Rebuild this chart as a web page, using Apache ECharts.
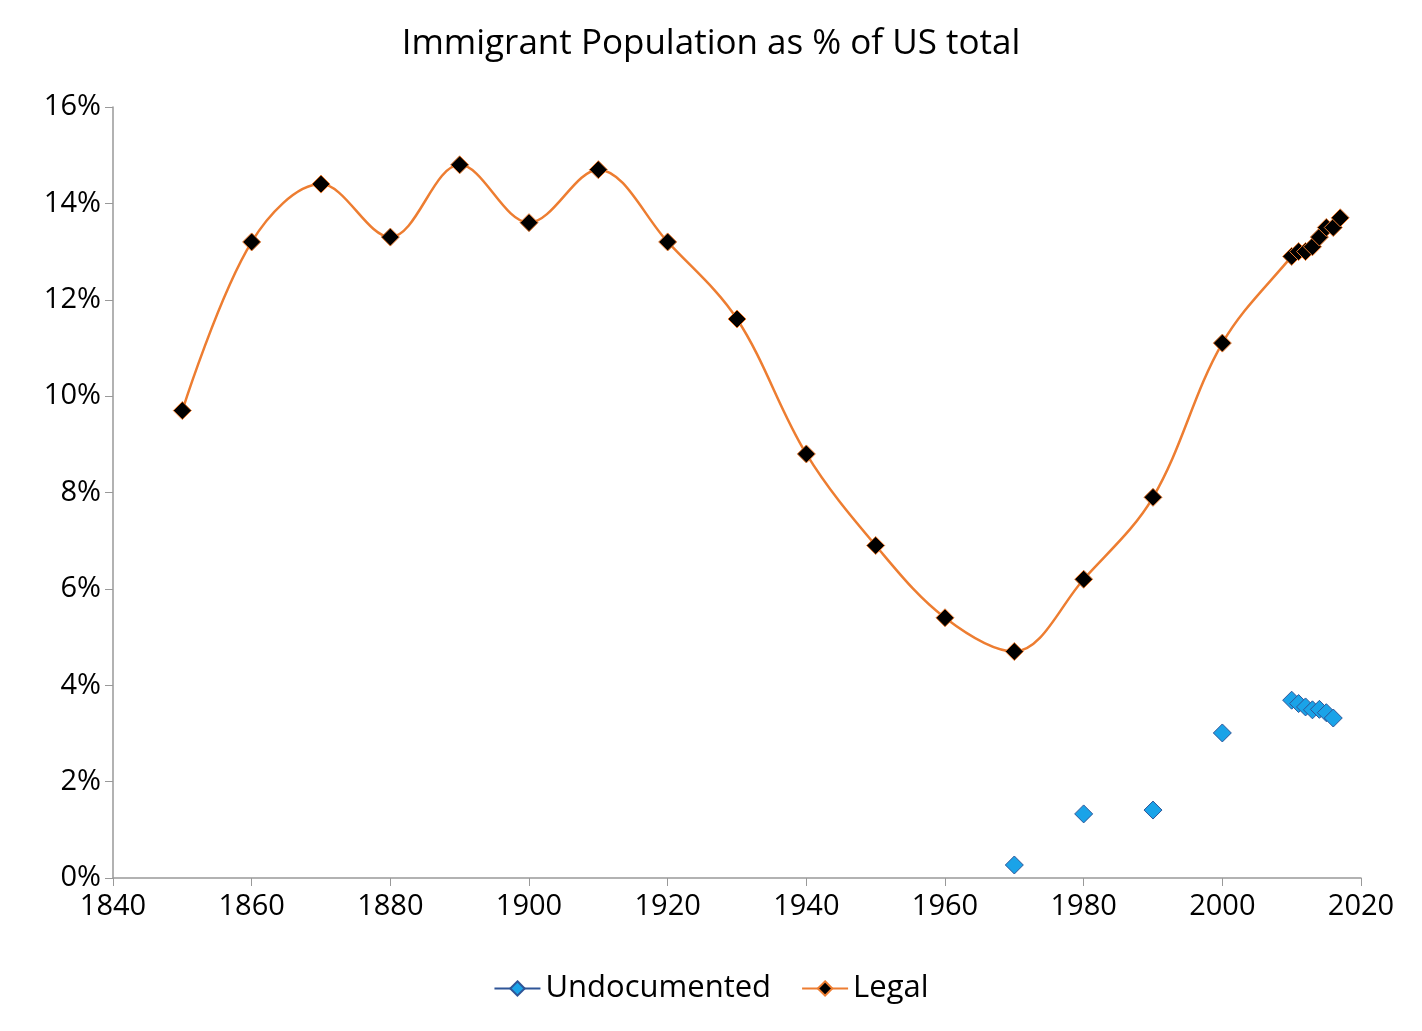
<!DOCTYPE html>
<html>
<head>
<meta charset="utf-8">
<script src="https://cdn.jsdelivr.net/npm/echarts@6/dist/echarts.min.js"></script>
<style>html,body{margin:0;padding:0;background:#fff}#main{width:1422px;height:1031px}</style>
</head>
<body>
<div id="main"></div>
<script>
var legalYears = [1850,1860,1870,1880,1890,1900,1910,1920,1930,1940,1950,1960,1970,1980,1990,2000,2010,2011,2012,2013,2014,2015,2016,2017];
var legalPct = [9.7,13.2,14.4,13.3,14.8,13.6,14.7,13.2,11.6,8.8,6.9,5.4,4.7,6.2,7.9,11.1,12.9,13.0,13.0,13.1,13.3,13.5,13.5,13.7];
var undocYears = [1970,1980,1990,2000,2010,2011,2012,2013,2014,2015,2016];
var undocPct = [0.27,1.33,1.41,3.01,3.69,3.62,3.55,3.49,3.5,3.43,3.32];

function pairs(xs, ys) {
	return xs.map(function(x, i) { return [x, ys[i] / 100]; });
}

var chart = echarts.init(document.getElementById('main'));
var font = 'Open Sans, Liberation Sans, sans-serif';
chart.setOption({
	animation: false,
	title: {
		text: 'Immigrant Population as % of US total',
		left: 'center', top: 22,
		textStyle: { fontFamily: font, fontSize: 35, fontWeight: 'normal', color: '#000' }
	},
	grid: { left: 113, right: 61, top: 107, bottom: 153 },
	legend: {
		bottom: 22, left: 'center', itemWidth: 46, itemHeight: 18, itemGap: 30,
		textStyle: { fontFamily: font, fontSize: 31, color: '#000' },
		data: [
			{ name: 'Undocumented', lineStyle: { color: '#2f5597', width: 2, opacity: 1 } },
			{ name: 'Legal' }
		]
	},
	xAxis: {
		type: 'value', min: 1840, max: 2020, interval: 20,
		axisLine: { lineStyle: { color: '#999', width: 1.5 } },
		axisTick: { show: true, length: 8, lineStyle: { color: '#999' } },
		splitLine: { show: false },
		axisLabel: { fontFamily: font, fontSize: 29, color: '#000', margin: 14,
			formatter: function(v) { return String(v); } }
	},
	yAxis: {
		type: 'value', min: 0, max: 0.16, interval: 0.02,
		axisLine: { show: true, lineStyle: { color: '#999', width: 1.5 } },
		axisTick: { show: true, length: 8, inside: false, lineStyle: { color: '#999' } },
		splitLine: { show: false },
		axisLabel: { fontFamily: font, fontSize: 29, color: '#000', margin: 12,
			formatter: function(v) { return Math.round(v * 100) + '%'; } }
	},
	series: [
		{
			name: 'Undocumented', type: 'line', data: pairs(undocYears, undocPct),
			symbol: 'diamond', symbolSize: 18,
			itemStyle: { color: '#1aa3e8', borderColor: '#2f5597', borderWidth: 1 },
			lineStyle: { opacity: 0 }
		},
		{
			name: 'Legal', type: 'line', data: pairs(legalYears, legalPct),
			smooth: 0.35, symbol: 'diamond', symbolSize: 18,
			itemStyle: { color: '#000', borderColor: '#ed7d31', borderWidth: 1 },
			lineStyle: { color: '#ed7d31', width: 2.5 }
		}
	]
});
</script>
</body>
</html>
